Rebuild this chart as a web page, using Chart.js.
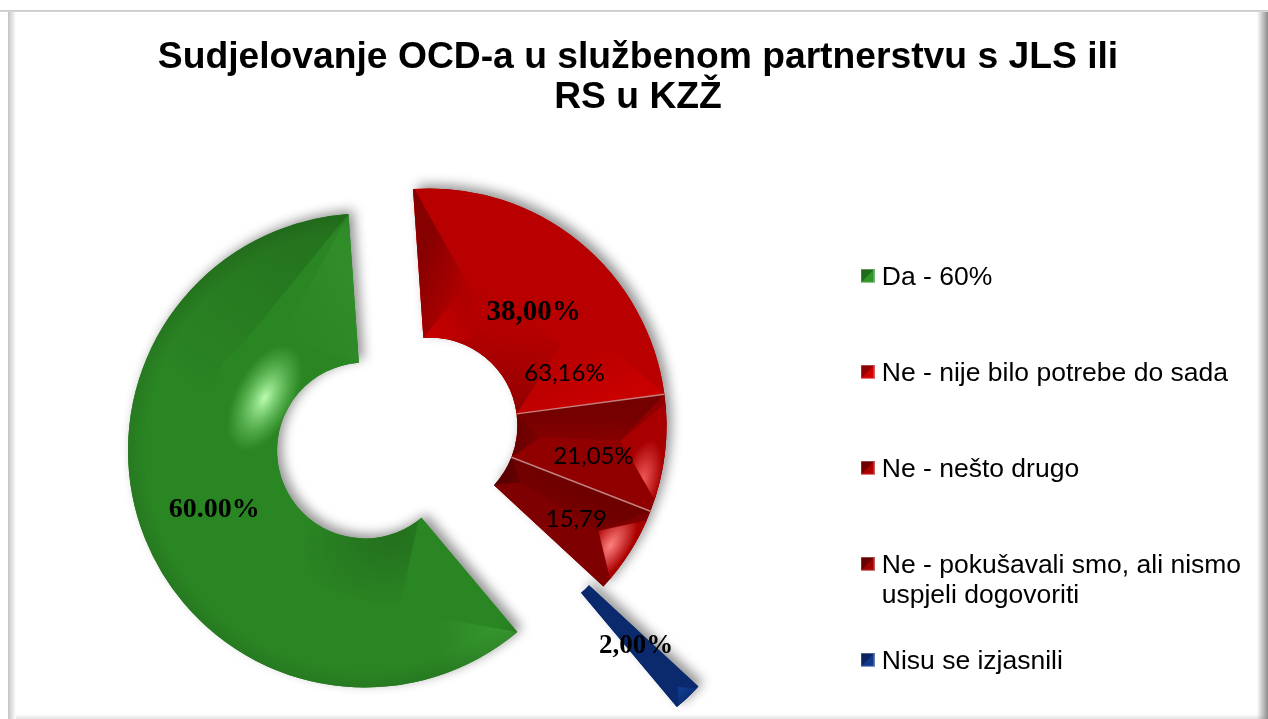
<!DOCTYPE html>
<html>
<head>
<meta charset="utf-8">
<title>Sudjelovanje OCD-a</title>
<style>
html,body{margin:0;padding:0;width:1268px;height:719px;overflow:hidden;background:#fff}
#frame{position:absolute;left:0;top:0;width:1268px;height:719px;
background:
linear-gradient(to bottom,#fff 0,#fff 10px,#c8c8c8 10px,#d8d8d8 12px,rgba(255,255,255,0) 12px) no-repeat,
linear-gradient(to right,#fff 0,#fff 8px,#c4c4c4 8px,#fff 16px,rgba(255,255,255,0) 16px) no-repeat,
linear-gradient(to right,rgba(255,255,255,0) 0,#8c8c8c 100%) right top/11px 100% no-repeat,
linear-gradient(to bottom,rgba(255,255,255,0) 0,#e4e4e4 100%) left bottom/100% 5px no-repeat,
#fff}
canvas{position:absolute;left:0;top:0}
</style>
</head>
<body>
<div id="frame"></div>
<canvas id="c" width="1268" height="719"></canvas>
<script src="https://cdn.jsdelivr.net/npm/chart.js@4"></script>
<script>
const titleLines = ["Sudjelovanje OCD-a u službenom partnerstvu s JLS ili", "RS u KZŽ"];
const categories = ["Da - 60%", "Ne - nije bilo potrebe do sada", "Ne - nešto drugo", "Ne - pokušavali smo, ali nismo", "Nisu se izjasnili"];
const categorySecondLine = ["", "", "", "uspjeli dogovoriti", ""];
const sliceValues = [60, 24, 8, 6, 2];
const sliceColors = ["#2a8523", "#b80000", "#900000", "#7e0000", "#0b2a6e"];
const boxColors = [["#1f6a1a", "#2f9528"], ["#8f0000", "#d00000"], ["#6e0000", "#b00000"], ["#640000", "#a00000"], ["#0a2460", "#123a8c"]];
const valueLabels = ["60.00%", "63,16%", "21,05%", "15,79", "2,00%"];
const groupLabel = "38,00%";

/* explosion of each slice from the chart centre (style, px) */
const sliceShift = [[-37.5, -6.5], [27, -31.5], [27, -31.5], [27, -31.5], [122, 68.5]];

/* label placement in slice coordinates: fraction along angle, fraction across ring */
const labelAnchor = [[0.502, 0.497], [0.845, 0.38], [0.635, 0.53], [0.53, 0.58], [0.6, 0.51]];
const labelFonts = ['bold 28px "Liberation Serif"', '24px Lato', '24px Lato', '24px Lato', 'bold 27px "Liberation Serif"'];
const groupAnchor = [0.54, 0.44];
const groupFont = 'bold 29px "Liberation Serif"';

/* bevel facets in slice coordinates */
const facets = [
 [
  {poly:[[1,1.6],[1,1],[.80,.5],[.75,.53],[.55,.75],[.55,1.6],[.77,1.7]], lin:[[.93,1],[.7,.75]], c:["rgba(20,60,15,.24)","rgba(20,60,15,0)"]},
  {poly:[[1,0],[.85,.35],[1,1]], lin:[[1,.5],[.85,.4]], c:["rgba(70,170,60,.2)","rgba(70,170,60,0)"]},
  {poly:[[0,-.02],[.13,.51],[.4,.5],[.4,-.02]], ell:{at:[.1,.02],rx:95,ry:70}, c:["rgba(0,0,0,.16)","rgba(0,0,0,0)"]},
  {poly:[[0,1],[.13,.51],[.13,1.6],[0,1.6]], lin:[[.01,.98],[.09,.75]], c:["rgba(90,200,80,.3)","rgba(90,200,80,0)"]},
  {poly:null, rad:{r0:.88,r1:1.0}, c:["rgba(0,0,0,0)","rgba(0,0,0,.09)"]},
  {poly:null, ell:{at:[.73,.17],rx:58,ry:30}, c:["rgba(190,255,180,.98)","rgba(120,220,110,0)"]}
 ],
 [
  {poly:[[0,1.02],[0,-.02],[.22,.396]], lin:[[0,.5],[.22,.4]], c:["#860000","#b20000"]},
  {poly:[[1,0],[.72,.447],[.79,.72],[1,1]], lin:[[.78,.5],[1,.55]], c:["#b80000","#c80000"]},
  {poly:[[0,0],[.22,.396],[.72,.447],[1,0]], lin:[[1,.05],[.62,.34]], c:["#920000","#b40000"]},
  {poly:[[0,0],[.22,.396],[.35,.05]], lin:[[.05,.05],[.25,.25]], c:["#c40000","#b00000"]}
 ],
 [
  {poly:[[0,0],[0,1],[.42,.695],[.47,.16]], lin:[[.1,.5],[.45,.5]], c:["#740000","#860000"]},
  {poly:[[0,0],[.47,.16],[1,0]], lin:[[.5,0],[.5,.16]], c:["#6a0000","#7c0000"]},
  {poly:[[0,1.1],[.42,.695],[1,1.1]], ell:{at:[.77,.885],rx:42,ry:18}, c:["#f25a5a","#a80000"]}
 ],
 [
  {poly:[[0,0],[0,1],[.495,.745],[.5,.13]], lin:[[.1,.5],[.5,.5]], c:["#6e0000","#760000"]},
  {poly:[[1,0],[0,0],[.5,.13]], lin:[[.5,0],[.5,.16]], c:["#580000","#6a0000"]},
  {poly:[[0,1.1],[.495,.745],[1,1.1]], ell:{at:[.57,.866],rx:40,ry:19}, c:["#ff8080","#aa0000"]}
 ],
 [
  {poly:[[0,1.02],[.5,.906],[1,1.02]], lin:[[.5,.9],[.5,1]], c:["#103f9c","#0c3078"]}
 ]
];
const seamSlices = [2, 3];

const OUTER_RADIUS = 237;
const LEGEND_WIDTH = 471;
const LEGEND_FONT = 26.5;

function polar(arc, af, rf) {
  const a = arc.startAngle + af * (arc.endAngle - arc.startAngle);
  const r = arc.innerRadius + rf * (arc.outerRadius - arc.innerRadius);
  return [arc.x + Math.cos(a) * r, arc.y + Math.sin(a) * r, a, r];
}
function drawFacets(ctx, arc, i) {
  ctx.save();
  ctx.beginPath();
  ctx.arc(arc.x, arc.y, arc.outerRadius, arc.startAngle, arc.endAngle);
  ctx.arc(arc.x, arc.y, arc.innerRadius, arc.endAngle, arc.startAngle, true);
  ctx.closePath();
  ctx.clip();
  for (const f of facets[i]) {
    ctx.save();
    if (f.poly) {
      ctx.beginPath();
      f.poly.forEach((p, k) => { const q = polar(arc, p[0], p[1]); k ? ctx.lineTo(q[0], q[1]) : ctx.moveTo(q[0], q[1]); });
      ctx.closePath();
      ctx.clip();
    }
    let g;
    if (f.lin) {
      const a = polar(arc, f.lin[0][0], f.lin[0][1]), b = polar(arc, f.lin[1][0], f.lin[1][1]);
      g = ctx.createLinearGradient(a[0], a[1], b[0], b[1]);
    } else if (f.rad) {
      const r0 = polar(arc, 0, f.rad.r0)[3], r1 = polar(arc, 0, f.rad.r1)[3];
      g = ctx.createRadialGradient(arc.x, arc.y, r0, arc.x, arc.y, r1);
    } else {
      const a = polar(arc, f.ell.at[0], f.ell.at[1]);
      ctx.translate(a[0], a[1]);
      ctx.rotate(a[2] + Math.PI / 2);
      ctx.scale(f.ell.rx, f.ell.ry);
      g = ctx.createRadialGradient(0, 0, 0, 0, 0, 1);
    }
    g.addColorStop(0, f.c[0]);
    g.addColorStop(1, f.c[1]);
    ctx.fillStyle = g;
    ctx.fillRect(-2000, -2000, 4000, 4000);
    ctx.restore();
  }
  ctx.restore();
}
function legendBox(colors) {
  const s = 14, cv = document.createElement("canvas");
  cv.width = s; cv.height = s + 4;
  const c = cv.getContext("2d");
  c.fillStyle = colors[0]; c.fillRect(0, 0, s, s);
  c.fillStyle = colors[1];
  c.beginPath(); c.moveTo(s, 0); c.lineTo(s, s); c.lineTo(0, s); c.closePath(); c.fill();
  c.strokeStyle = "rgba(255,255,255,.35)"; c.strokeRect(.5, .5, s - 1, s - 1);
  return cv;
}

const bevelPlugin = {
  id: "bevel",
  beforeLayout(chart) {
    const lg = chart.legend;
    if (lg._fitPatched) return;
    lg._fitPatched = true;
    const baseFit = lg.fit, baseDraw = lg.draw;
    lg.fit = function () {
      this.maxHeight = 1000;
      baseFit.call(this);
      this.width = LEGEND_WIDTH;
    };
    lg.draw = function () {
      this.bottom = 1000;
      baseDraw.call(this);
    };
  },
  beforeDatasetsDraw(chart) {
    const ctx = chart.ctx, arcs = chart.getDatasetMeta(0).data;
    arcs.forEach((arc, i) => {
      if (!arc._proto) {
        arc._proto = arc.draw;
        arc.draw = function (c) {
          c.save();
          c.translate(sliceShift[i][0], sliceShift[i][1]);
          this._proto(c);
          drawFacets(c, this, i);
          if (seamSlices.includes(i)) {
            const a = polar(this, 0, 0), b = polar(this, 0, 1);
            c.strokeStyle = "rgba(205,150,150,.85)"; c.lineWidth = 1.5;
            c.beginPath(); c.moveTo(a[0], a[1]); c.lineTo(b[0], b[1]); c.stroke();
          }
          c.restore();
        };
      }
      ctx.save();
      ctx.translate(sliceShift[i][0], sliceShift[i][1]);
      ctx.shadowColor = "rgba(0,0,0,.42)";
      ctx.shadowBlur = 12;
      ctx.shadowOffsetX = 5;
      ctx.shadowOffsetY = -4;
      arc._proto(ctx);
      ctx.restore();
    });
  },
  afterDatasetsDraw(chart) {
    const ctx = chart.ctx, arcs = chart.getDatasetMeta(0).data;
    ctx.save();
    ctx.fillStyle = "#000";
    ctx.textAlign = "center";
    ctx.textBaseline = "middle";
    arcs.forEach((arc, i) => {
      const p = polar(arc, labelAnchor[i][0], labelAnchor[i][1]);
      ctx.font = labelFonts[i];
      ctx.fillText(valueLabels[i], p[0] + sliceShift[i][0], p[1] + sliceShift[i][1]);
    });
    const q = polar(arcs[1], groupAnchor[0], groupAnchor[1]);
    ctx.font = groupFont;
    ctx.fillText(groupLabel, q[0] + sliceShift[1][0], q[1] + sliceShift[1][1]);
    ctx.restore();
    const lg = chart.legend;
    ctx.save();
    ctx.fillStyle = "#000";
    ctx.font = LEGEND_FONT + 'px "Liberation Sans"';
    ctx.textBaseline = "middle";
    ctx.textAlign = "left";
    categorySecondLine.forEach((t, i) => {
      if (!t) return;
      const h = lg.legendHitBoxes[i];
      ctx.fillText(t, h.left + 2 + LEGEND_FONT / 2, h.top + h.height / 2 + 30);
    });
    ctx.restore();
  }
};

new Chart(document.getElementById("c"), {
  type: "doughnut",
  plugins: [bevelPlugin],
  data: {
    labels: categories,
    datasets: [{
      data: sliceValues,
      backgroundColor: sliceColors,
      borderWidth: 0,
      hoverOffset: 0
    }]
  },
  options: {
    responsive: false,
    animation: false,
    rotation: 140,
    radius: OUTER_RADIUS,
    cutout: "37.1%",
    layout: { padding: { left: 8, right: 0, top: 0, bottom: 0 } },
    events: [],
    plugins: {
      tooltip: { enabled: false },
      title: {
        display: true,
        text: titleLines,
        color: "#000",
        font: { family: '"Liberation Sans"', size: 37.25, weight: "bold", lineHeight: 1.074 },
        padding: { top: 38, bottom: 77 }
      },
      legend: {
        position: "right",
        align: "start",
        fullSize: false,
        labels: {
          color: "#000",
          font: { family: '"Liberation Sans"', size: LEGEND_FONT },
          padding: 69.5,
          usePointStyle: true,
          pointStyleWidth: 2,
          generateLabels() {
            return categories.map((text, i) => ({
              text, index: i, hidden: false, lineWidth: 0,
              fillStyle: sliceColors[i], strokeStyle: sliceColors[i],
              pointStyle: legendBox(boxColors[i])
            }));
          }
        }
      }
    }
  }
});
</script>
</body>
</html>
